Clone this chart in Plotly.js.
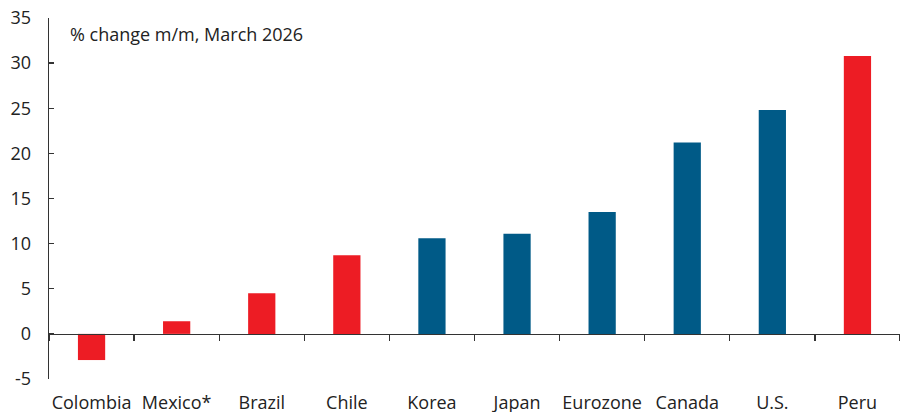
<!DOCTYPE html>
<html>
<head>
<meta charset="utf-8">
<script src="https://cdn.plot.ly/plotly-3.0.1.min.js"></script>
<style>html,body{margin:0;padding:0;background:#fff;}#chart{width:900px;height:412px;}</style>
</head>
<body>
<div id="chart"></div>
<script>
const categories = ["Colombia", "Mexico*", "Brazil", "Chile", "Korea", "Japan", "Eurozone", "Canada", "U.S.", "Peru"];
const values = [-2.9, 1.4, 4.5, 8.7, 10.6, 11.1, 13.5, 21.2, 24.8, 30.8];
const groups = ["latam", "latam", "latam", "latam", "dev", "dev", "dev", "dev", "dev", "latam"];
const groupColors = {latam: "#ED1C24", dev: "#005A87"};
const yTicks = [-5, 0, 5, 10, 15, 20, 25, 30, 35];
const note = "% change m/m, March 2026";

const font = "'Open Sans', 'Noto Sans', sans-serif";
const textColor = "#222222";

const traces = [
  {
    type: "bar",
    x: categories,
    y: values,
    marker: {color: groups.map(g => groupColors[g])},
    hoverinfo: "x+y",
    showlegend: false
  },
  {
    type: "scatter",
    mode: "markers",
    x: categories,
    y: values,
    xaxis: "x2",
    marker: {opacity: 0},
    hoverinfo: "skip",
    showlegend: false
  }
];

const layout = {
  width: 900,
  height: 412,
  margin: {l: 49, r: 0, t: 18, b: 33},
  paper_bgcolor: "#fff",
  plot_bgcolor: "#fff",
  font: {family: font, size: 18, color: textColor},
  bargap: 0.68,
  showlegend: false,
  xaxis: {
    type: "category",
    categoryarray: categories,
    range: [-0.5, categories.length - 0.5],
    showline: false,
    showgrid: false,
    zeroline: false,
    ticks: "",
    ticklabelstandoff: 11,
    tickfont: {family: font, size: 18, color: textColor},
    fixedrange: true
  },
  xaxis2: {
    type: "category",
    categoryarray: categories,
    range: [-0.5, categories.length - 0.5],
    overlaying: "x",
    anchor: "free",
    position: (0 - yTicks[0]) / (yTicks[yTicks.length - 1] - yTicks[0]),
    side: "bottom",
    showline: true,
    linecolor: "#333",
    linewidth: 1.5,
    ticks: "outside",
    tickson: "boundaries",
    ticklen: 6,
    tickwidth: 1.3,
    tickcolor: "#333",
    showticklabels: false,
    showgrid: false,
    zeroline: false,
    fixedrange: true
  },
  yaxis: {
    range: [yTicks[0], yTicks[yTicks.length - 1]],
    tickvals: yTicks,
    ticktext: yTicks.map(String),
    showline: true,
    linecolor: "#333",
    linewidth: 1.3,
    ticks: "inside",
    ticklen: 5,
    tickwidth: 1.3,
    tickcolor: "#333",
    showgrid: false,
    zeroline: false,
    ticklabelstandoff: 13,
    tickfont: {family: font, size: 18, color: textColor},
    fixedrange: true
  },
  annotations: [
    {
      text: note,
      xref: "paper",
      yref: "paper",
      x: 19 / 851,
      y: 0.957,
      xanchor: "left",
      yanchor: "middle",
      showarrow: false,
      font: {family: font, size: 18, color: textColor}
    }
  ]
};

Plotly.newPlot("chart", traces, layout, {displayModeBar: false, staticPlot: true});
</script>
</body>
</html>
